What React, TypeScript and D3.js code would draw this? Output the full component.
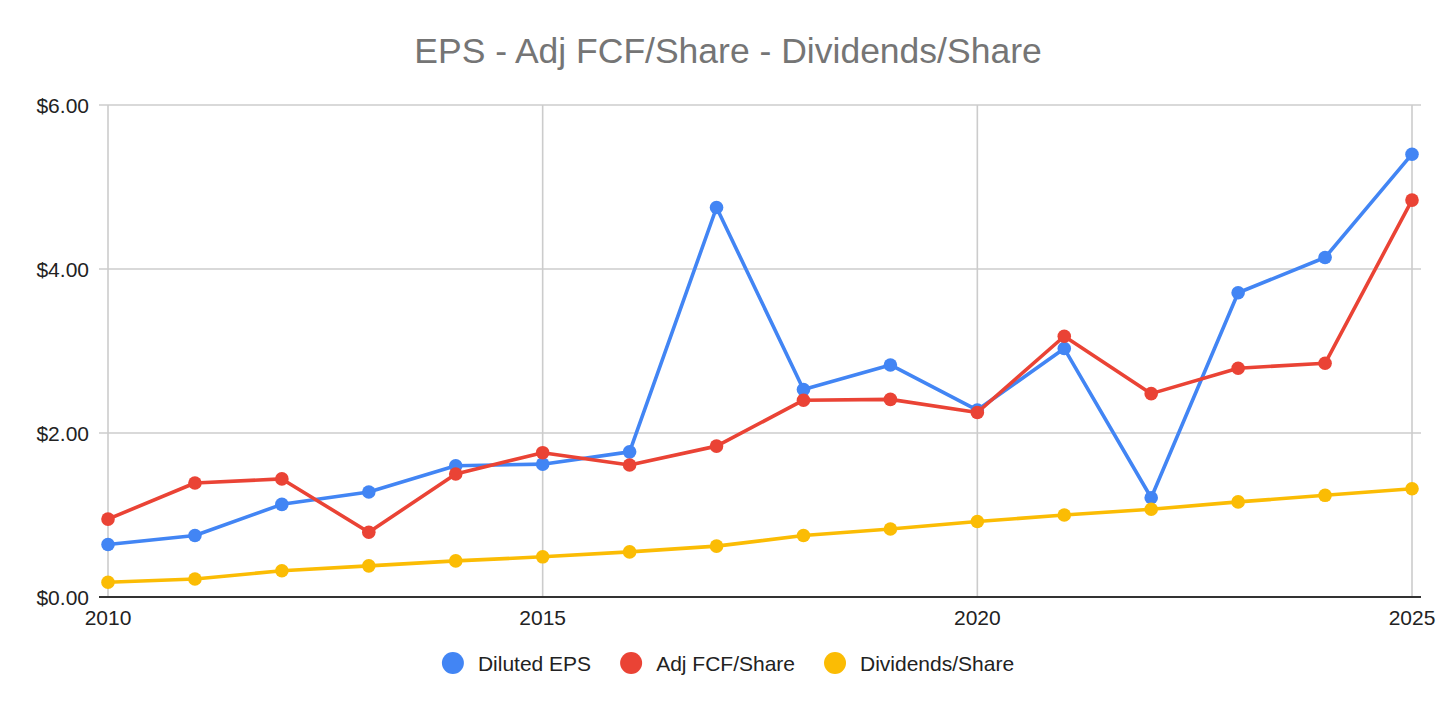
import { useEffect, useRef } from 'react';
import * as d3 from 'd3';

const years = [2010, 2011, 2012, 2013, 2014, 2015, 2016, 2017, 2018, 2019, 2020, 2021, 2022, 2023, 2024, 2025];
const dilutedEps = [0.64, 0.75, 1.13, 1.28, 1.6, 1.62, 1.77, 4.75, 2.53, 2.83, 2.28, 3.03, 1.21, 3.71, 4.14, 5.4];
const adjFcfPerShare = [0.95, 1.39, 1.44, 0.79, 1.5, 1.76, 1.61, 1.84, 2.4, 2.41, 2.25, 3.18, 2.48, 2.79, 2.85, 4.84];
const dividendsPerShare = [0.18, 0.22, 0.32, 0.38, 0.44, 0.49, 0.55, 0.62, 0.75, 0.83, 0.92, 1.0, 1.07, 1.16, 1.24, 1.32];
const yTicks = [0, 2, 4, 6];
const xTicks = [2010, 2015, 2020, 2025];
const seriesNames = ['Diluted EPS', 'Adj FCF/Share', 'Dividends/Share'];
const seriesColors = ['#4285f4', '#ea4335', '#fbbc04'];

const WIDTH = 1456;
const HEIGHT = 710;
const FONT = '"Liberation Sans", Arial, sans-serif';

const Chart = () => {
  const ref = useRef<SVGSVGElement | null>(null);

  useEffect(() => {
    if (!ref.current) return;
    const svg = d3.select(ref.current);
    svg.selectAll('*').remove();

    const x = d3.scaleLinear().domain([2010, 2025]).range([108, 1412]);
    const y = d3.scaleLinear().domain([0, 6]).range([597, 105]);

    svg
      .append('rect')
      .attr('width', WIDTH)
      .attr('height', HEIGHT)
      .attr('fill', '#ffffff');

    svg
      .append('text')
      .attr('x', 728)
      .attr('y', 63)
      .attr('text-anchor', 'middle')
      .attr('font-family', FONT)
      .attr('font-size', 35.5)
      .attr('fill', '#757575')
      .text('EPS - Adj FCF/Share - Dividends/Share');

    // grid
    const grid = svg.append('g');
    grid
      .selectAll('line.h')
      .data(yTicks.filter((t) => t !== 0))
      .enter()
      .append('line')
      .attr('x1', 99)
      .attr('x2', 1421)
      .attr('y1', (d) => y(d))
      .attr('y2', (d) => y(d))
      .attr('stroke', '#cccccc')
      .attr('stroke-width', 1.6);
    grid
      .selectAll('line.v')
      .data(xTicks)
      .enter()
      .append('line')
      .attr('x1', (d) => x(d))
      .attr('x2', (d) => x(d))
      .attr('y1', y(6))
      .attr('y2', y(0))
      .attr('stroke', '#cccccc')
      .attr('stroke-width', 1.6);

    svg
      .append('line')
      .attr('x1', 99)
      .attr('x2', 1421)
      .attr('y1', y(0))
      .attr('y2', y(0))
      .attr('stroke', '#333333')
      .attr('stroke-width', 2);

    // axis labels
    svg
      .append('g')
      .selectAll('text')
      .data(yTicks)
      .enter()
      .append('text')
      .attr('x', 89)
      .attr('y', (d) => y(d))
      .attr('dy', '0.36em')
      .attr('text-anchor', 'end')
      .attr('font-family', FONT)
      .attr('font-size', 21)
      .attr('fill', '#222222')
      .text((d) => d3.format('$.2f')(d));

    svg
      .append('g')
      .selectAll('text')
      .data(xTicks)
      .enter()
      .append('text')
      .attr('x', (d) => x(d))
      .attr('y', 625)
      .attr('text-anchor', 'middle')
      .attr('font-family', FONT)
      .attr('font-size', 21)
      .attr('fill', '#222222')
      .text((d) => String(d));

    // series
    const allSeries = [dilutedEps, adjFcfPerShare, dividendsPerShare];
    const line = d3
      .line<number>()
      .x((_, i) => x(years[i]))
      .y((d) => y(d));

    allSeries.forEach((values, s) => {
      const g = svg.append('g');
      g.append('path')
        .attr('d', line(values) ?? '')
        .attr('fill', 'none')
        .attr('stroke', seriesColors[s])
        .attr('stroke-width', 3.6)
        .attr('stroke-linejoin', 'round');
      g.selectAll('circle')
        .data(values)
        .enter()
        .append('circle')
        .attr('cx', (_, i) => x(years[i]))
        .attr('cy', (d) => y(d))
        .attr('r', 6.8)
        .attr('fill', seriesColors[s]);
    });

    // legend
    const legend = svg.append('g');
    const items = seriesNames.map((name, i) => {
      const item = legend.append('g');
      item.append('circle').attr('cx', 11).attr('cy', 663).attr('r', 11).attr('fill', seriesColors[i]);
      const label = item
        .append('text')
        .attr('x', 36)
        .attr('y', 663)
        .attr('dy', '0.36em')
        .attr('font-family', FONT)
        .attr('font-size', 21)
        .attr('fill', '#222222')
        .text(name);
      const w = (label.node() as SVGTextElement).getComputedTextLength();
      return { item, w: 36 + w };
    });
    const gap = 29;
    const total = d3.sum(items, (d) => d.w) + gap * (items.length - 1);
    let cursor = 728 - total / 2;
    items.forEach(({ item, w }) => {
      item.attr('transform', `translate(${cursor},0)`);
      cursor += w + gap;
    });
  }, []);

  return <svg ref={ref} width={WIDTH} height={HEIGHT} style={{ display: 'block' }} />;
};

export default function App() {
  useEffect(() => {
    document.body.style.margin = '0';
  }, []);
  return <Chart />;
}
